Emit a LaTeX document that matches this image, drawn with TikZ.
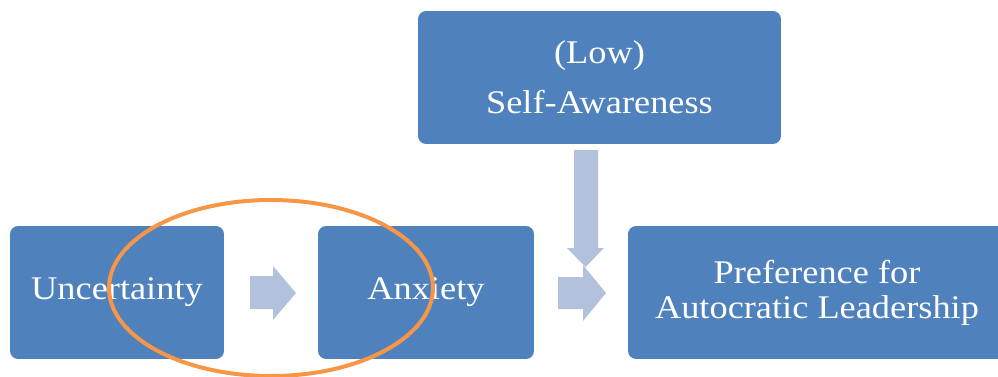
\documentclass[tikz,border=0pt]{standalone}
\usepackage{fontspec}
\setmainfont{Liberation Serif}[FakeStretch=1.1]
\usetikzlibrary{positioning}

\definecolor{boxblue}{HTML}{4F81BD}
\definecolor{arrowblue}{HTML}{B2C1DC}
\definecolor{ringorange}{HTML}{F79646}

\begin{document}
\begin{tikzpicture}[x=0.02cm, y=-0.02cm,
		stage/.style={fill=boxblue, rounded corners=0.16cm, minimum height=2.66cm, text=white, align=center, inner sep=0pt, font=\fontsize{18.8}{19.9}\selectfont},
		blockarrow/.style={fill=arrowblue}]
			\clip (0, 0) rectangle (998, 376);
			
			% boxes
			\node[stage, minimum width=4.28cm] (uncert) at (117, 292.5) {Uncertainty};
			\node[stage, minimum width=4.32cm] (anxiety) at (426, 292.5) {Anxiety};
			\node[stage, minimum width=7.26cm] (selfaware) at (599.5, 77.5) {(Low)\\[0.3cm]Self-Awareness};
			\node[stage, minimum width=7.56cm] (autocr) at (817, 292.5) {Preference for\\Autocratic Leadership};
			
			% block arrows
			\fill[blockarrow] (250, 276) -- (273, 276) -- (273, 266) -- (296, 293) -- (273, 320) -- (273, 309) -- (250, 309) -- cycle;
			\fill[blockarrow] (574, 150) -- (598, 150) -- (598, 248) -- (604, 248) -- (585.5, 267) -- (567, 248) -- (574, 248) -- cycle;
			\fill[blockarrow] (558, 277) -- (583, 277) -- (583, 265) -- (606, 293) -- (583, 321) -- (583, 309) -- (558, 309) -- cycle;
			
			% highlight
			\draw[ringorange, line width=0.08cm] (271, 288) ellipse [x radius=162, y radius=88];
		\end{tikzpicture}
\end{document}
